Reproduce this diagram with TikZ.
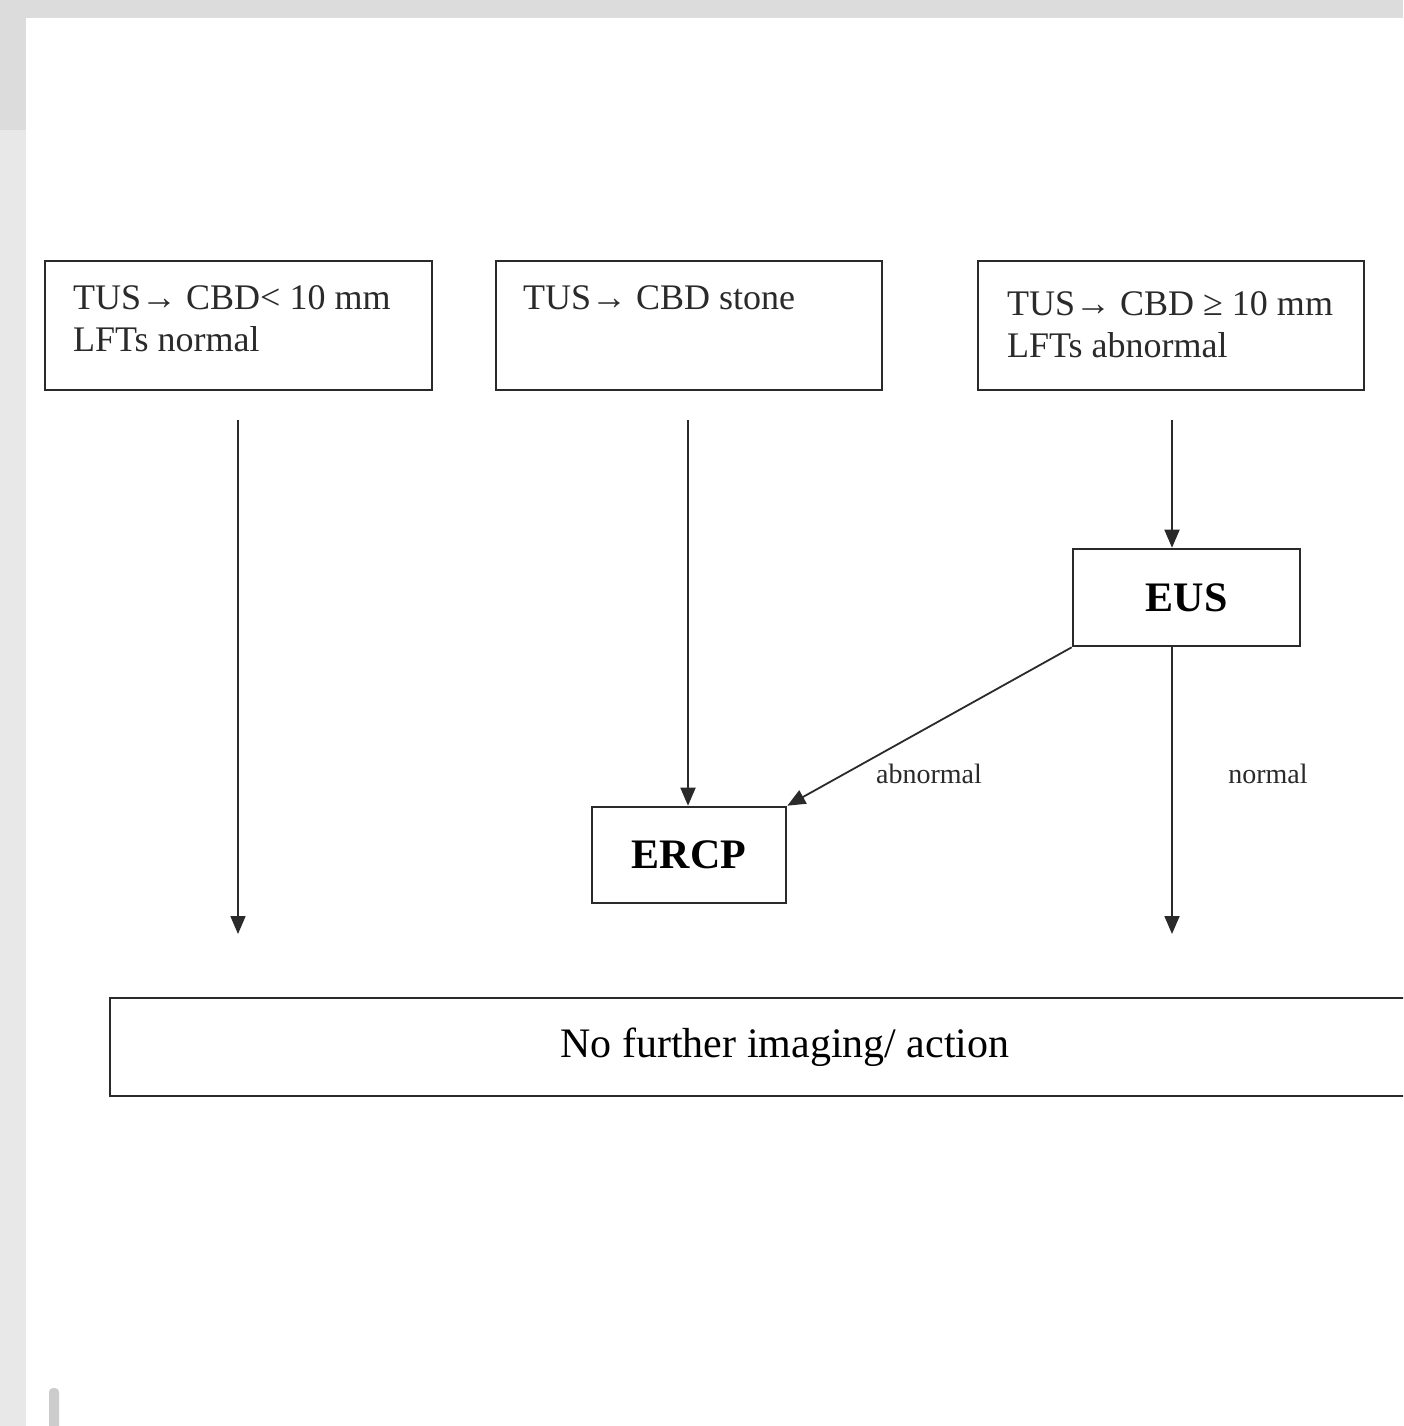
\documentclass[tikz,border=0pt]{standalone}
\usepackage{fontspec}
\setmainfont{Liberation Serif}
\usetikzlibrary{arrows.meta,calc}
\definecolor{frame}{HTML}{DCDCDC}
\definecolor{frameb}{HTML}{E8E8E8}
\definecolor{ink}{HTML}{2A2A2A}
\tikzset{
  box/.style={draw=ink, line width=2.6pt, fill=white, inner sep=0pt, minimum width=#1},
  box/.default=100pt,
  lbl/.style={anchor=north west, inner sep=0pt, align=left, font=\fontsize{36}{42}\selectfont, text=ink},
  bigb/.style={font=\fontsize{42}{48}\selectfont\bfseries, text=black},
  conn/.style={draw=ink, line width=1.8pt, -{Triangle[length=18pt,width=15pt]}},
  small/.style={font=\fontsize{28}{32}\selectfont, text=ink, inner sep=0pt}
}
\begin{document}
\begin{tikzpicture}[x=1pt,y=-1pt]
\clip (0,0) rectangle (1403,1426);
\fill[white] (0,0) rectangle (1403,1426);
% frame of screenshot
\fill[frame] (0,0) rectangle (1403,18);
\fill[frame] (0,0) rectangle (26,130);
\fill[frameb] (0,130) rectangle (26,1426);
\fill[black!20, rounded corners=4pt] (49,1388) rectangle (59,1440);

% top boxes
\node[box=387pt, minimum height=129pt] (b1) at (238.5,325.5) {};
\node[box=386pt, minimum height=129pt] (b2) at (689,325.5) {};
\node[box=386pt, minimum height=129pt] (b3) at (1171,325.5) {};
\node[lbl] (t1) at (73,285) {TUS→ CBD< 10 mm\\LFTs normal};
\node[lbl] (t2) at (523,285) {TUS→ CBD stone};
\node[lbl] (t3) at (1007,291) {TUS→ CBD ≥ 10 mm\\LFTs abnormal};

% middle boxes
\node[box=227pt, minimum height=97pt, bigb] (eus) at (1186.5,597.5) {EUS};
\node[box=194pt, minimum height=96pt, bigb] (ercp) at (689,855) {ERCP};

% bottom box
\node[box=1350pt, minimum height=98pt, font=\fontsize{42}{48}\selectfont, text=black] (nf) at (785,1047) {No further imaging/ action};

% arrow start points
\coordinate (s1) at (238,420);
\coordinate (e1) at (238,934);
\coordinate (s2) at (688,420);
\coordinate (s3) at (1172,420);
\coordinate (e3) at (1172,934);

\draw[conn] (s1) -- (e1);
\draw[conn] (s2) -- (s2 |- ercp.north);
\draw[conn] (s3) -- (s3 |- eus.north);
\draw[conn] (eus.south west) -- (ercp.north east);
\draw[conn] (eus.south -| e3) -- (e3);

\node[small] (ab) at (929,774) {abnormal};
\node[small] (no) at (1268,774) {normal};
\end{tikzpicture}
\end{document}
